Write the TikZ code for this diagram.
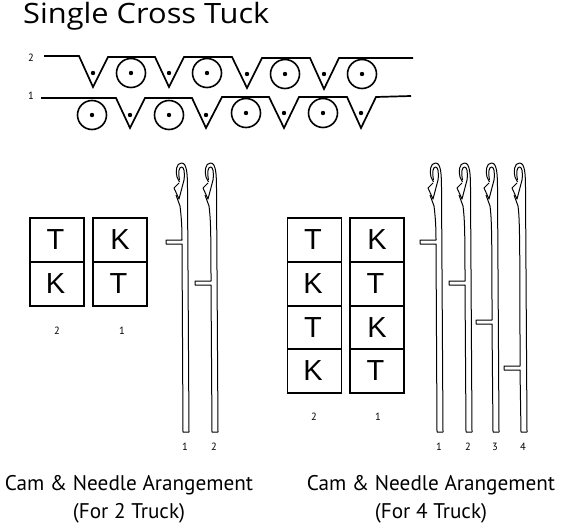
\documentclass[tikz,border=0pt]{standalone}
\usepackage{fontspec}
\setmainfont{PT Sans}
\newfontfamily\labelfont{Liberation Sans}
\newfontfamily\titlefont[FakeStretch=1.1]{Open Sans}

\tikzset{
  wave/.style={line width=1.7pt,line join=miter},
  loopring/.style={line width=1.6pt},
  cell/.style={draw,line width=1.9pt,minimum width=54pt,minimum height=43.5pt,inner sep=0pt,
    font=\labelfont\fontsize{29}{29}\selectfont},
  smallnum/.style={font=\fontsize{10.5}{11}\selectfont,inner sep=0pt},
  caption/.style={align=center,inner sep=0pt,font=\fontsize{21.2}{28}\selectfont},
  needleline/.style={line width=1pt,line join=round}
}

% one needle: shank left edge x, butt height y
\newcommand{\needle}[2]{
  \draw[needleline,xshift=#1pt]
    (6,432) -- (4.5,190) .. controls (4.5,174) and (4,163) .. (-1.5,163)
    .. controls (-7,163) and (-7.5,172) .. (-6,177) -- (-3.5,182);
  \draw[needleline,xshift=#1pt]
    (-3.5,180) .. controls (-5,172) and (-4,167) .. (-1.5,167)
    .. controls (1,167) and (2,172) .. (1,180) -- (-4,199) -- (-9,188) -- (-4,183);
  \draw[needleline,xshift=#1pt]
    (-7,195) -- (-3,206) .. controls (-1.5,218) and (-1,228) .. (-1,#2)
    -- (-17,#2) -- (-17,#2+4) -- (-1,#2+4) -- (0,432) -- (6,432);
}

\begin{document}
\begin{tikzpicture}[x=1pt,y=-1pt]
  \useasboundingbox (0,0) rectangle (561,524);

  % Title
  \node[anchor=base west,inner sep=0pt,font=\titlefont\fontsize{28}{30}\selectfont] (title) at (23,24) {Single Cross Tuck};

  % Cam rows
  \node[smallnum] (row2) at (31,58) {2};
  \node[smallnum] (row1) at (31,96) {1};
  \draw[wave] (44,56) -- (79,56) -- (93,87) -- (108,57) -- (155,57) -- (169,87) -- (184,57)
    -- (232,57) -- (247,88) -- (262,58) -- (310,58) -- (324,89) -- (339,58) -- (413,58);
  \draw[wave] (41,98) -- (116,98) -- (130,128) -- (145,98) -- (192,98) -- (206,128) -- (222,97)
    -- (269,97) -- (284,128) -- (299,97) -- (347,97) -- (361,128) -- (376,97) -- (411,96);

  % Circles
  \foreach \cx/\cy in {131/73,207/73,285/74,362/74,92/115,169/115,246/113,323/113} {
    \draw[loopring] (\cx,\cy) circle (14.5);
    \fill (\cx,\cy) circle (2.2);
  }
  % Dots inside the V
  \foreach \cx/\cy in {93/73,169/73,247/74,324/74,130/115,206/115,284/113,361/113} {
    \fill (\cx,\cy) circle (2.2);
  }

  % Cells, 2 truck
  \node[cell] (a1) at (57,240) {\hspace{-3pt}T};
  \node[cell] (a2) at (57,284) {\hspace{-3pt}K};
  \node[cell] (b1) at (120,240) {K};
  \node[cell] (b2) at (120,284) {\hspace{-3pt}T};
  \node[smallnum] (a) at (57,331) {2};
  \node[smallnum] (b) at (122,331) {1};

  % Cells, 4 truck
  \node[cell] (c1) at (314.5,240) {\hspace{-3pt}T};
  \node[cell] (c2) at (314.5,284) {\hspace{-3pt}K};
  \node[cell] (c3) at (314.5,327.5) {\hspace{-3pt}T};
  \node[cell] (c4) at (314.5,371) {\hspace{-3pt}K};
  \node[cell] (d1) at (377,240) {K};
  \node[cell] (d2) at (377,284) {\hspace{-3pt}T};
  \node[cell] (d3) at (377,327.5) {K};
  \node[cell] (d4) at (377,371) {\hspace{-3pt}T};
  \node[smallnum] (c) at (314,417) {2};
  \node[smallnum] (d) at (378,417) {1};

  % Needles
  \foreach \nx/\ny/\nnum in {183/240/1,212/281/2,437/240/1,466/281/2,493/320/3,521/366/4} {
    \needle{\nx}{\ny}
    \node[smallnum] at (\nx+2,447) {\nnum};
  }

  % Captions
  \node[caption] (cap2) at (129,499) {Cam \& Needle Arangement\\(For 2 Truck)};
  \node[caption] (cap4) at (431,499) {Cam \& Needle Arangement\\(For 4 Truck)};
\end{tikzpicture}
\end{document}
